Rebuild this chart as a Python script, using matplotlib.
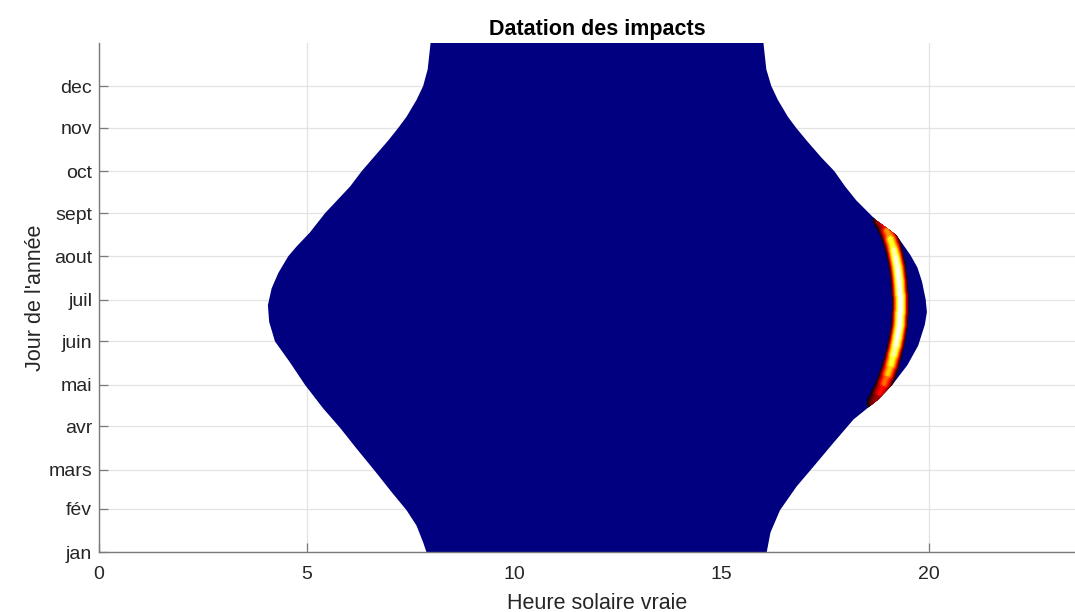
import numpy as np
import matplotlib
matplotlib.use('Agg')
from matplotlib import pyplot as plt
from matplotlib.collections import LineCollection

plt.rcParams['font.family'] = ['Liberation Sans', 'DejaVu Sans']

# lever du soleil (heure solaire vraie) selon le jour de l'annee
jours_lever = [1, 8, 20, 31, 44, 59, 75, 90, 104, 121, 137, 152, 166, 178, 190, 201,
               213, 220, 230, 244, 263, 274, 284, 296, 305, 313, 325, 335, 347, 366]
lever = [7.89, 7.81, 7.65, 7.41, 7.05, 6.65, 6.21, 5.81, 5.40, 4.96, 4.60, 4.24, 4.10, 4.07, 4.16, 4.32,
         4.56, 4.76, 5.08, 5.45, 6.05, 6.33, 6.62, 6.97, 7.21, 7.41, 7.65, 7.81, 7.92, 7.99]

# coucher du soleil
jours_coucher = [1, 15, 31, 48, 62, 79, 96, 110, 121, 135, 149, 164, 173, 182, 195, 205,
                 214, 228, 239, 253, 263, 274, 284, 296, 305, 313, 325, 335, 347, 366]
coucher = [16.09, 16.18, 16.41, 16.81, 17.21, 17.69, 18.18, 18.76, 19.12, 19.48, 19.74, 19.90, 19.95, 19.92,
           19.83, 19.72, 19.55, 19.22, 18.72, 18.25, 17.98, 17.72, 17.40, 17.05, 16.80, 16.60, 16.36, 16.20,
           16.08, 16.01]

# croissant des impacts : centre (heure) et intensite relative
arc_jours = [108, 114, 121, 128, 135, 142, 149, 155, 164, 173, 185, 195, 205, 214, 220, 228, 234, 239]
arc_heure = [18.70, 18.80, 18.91, 19.00, 19.08, 19.14, 19.20, 19.24, 19.29, 19.30, 19.30, 19.28, 19.24, 19.18,
             19.13, 19.04, 18.95, 18.85]
arc_niveau = [0.15, 0.30, 0.45, 0.60, 0.75, 0.86, 0.95, 1.0, 1.0, 1.0, 1.0, 1.0, 1.0, 0.95, 0.88, 0.70, 0.48, 0.22]

mois_jour = [1, 32, 60, 91, 121, 152, 182, 213, 244, 274, 305, 335]
mois_nom = ['jan', 'fév', 'mars', 'avr', 'mai', 'juin', 'juil', 'aout', 'sept', 'oct', 'nov', 'dec']

fig = plt.figure(figsize=(10.75, 6.12), dpi=100)
ax = fig.add_axes([0.0921, 0.098, 0.9265, 0.832])

# zone eclairee : polygone lever -> coucher
contour = np.concatenate([np.column_stack([lever, jours_lever]),
                          np.column_stack([coucher, jours_coucher])[::-1]])
zone = plt.Polygon(contour, closed=True, facecolor='#000080', edgecolor='none', zorder=1)
ax.add_patch(zone)

# croissant : couches superposees, du bord (sombre) vers le centre (blanc)
pts = np.column_stack([arc_heure, arc_jours])
segs = np.stack([pts[:-1], pts[1:]], axis=1)
niv = (np.array(arc_niveau[:-1]) + np.array(arc_niveau[1:])) / 2
cmap = plt.get_cmap('hot')
couches = [(17, 0.04), (15, 0.18), (13.5, 0.32), (12, 0.45), (10.5, 0.58),
           (9, 0.70), (7, 0.82), (5, 0.93), (3, 1.0)]
for larg, f in couches:
    lc = LineCollection(segs, colors=cmap(niv * f), linewidths=larg * 0.72,
                        capstyle='round', joinstyle='round', zorder=2)
    lc.set_clip_path(zone)
    ax.add_collection(lc)

ax.set_xlim(0, 24)
ax.set_ylim(1, 366)
ax.set_xticks([0, 5, 10, 15, 20])
ax.set_yticks(mois_jour)
ax.set_yticklabels(mois_nom)

ax.set_axisbelow(True)
ax.grid(True, color='#e3e3e3', linewidth=0.9)
for s in ['top', 'right']:
    ax.spines[s].set_visible(False)
for s in ['left', 'bottom']:
    ax.spines[s].set_color('#7a7a7a')
    ax.spines[s].set_linewidth(1.0)
ax.tick_params(direction='in', length=6.5, width=0.9, color='#7a7a7a',
               labelcolor='#262626', labelsize=14)
ax.tick_params(axis='x', pad=10)
ax.tick_params(axis='y', pad=5)

ax.set_title('Datation des impacts', fontsize=15.5, fontweight='bold', pad=6)
ax.set_xlabel('Heure solaire vraie', fontsize=15.5, color='#262626', labelpad=7)
ax.set_ylabel("Jour de l'année", fontsize=15.5, color='#262626', labelpad=1.5)

fig.savefig('out.png', dpi=100)
